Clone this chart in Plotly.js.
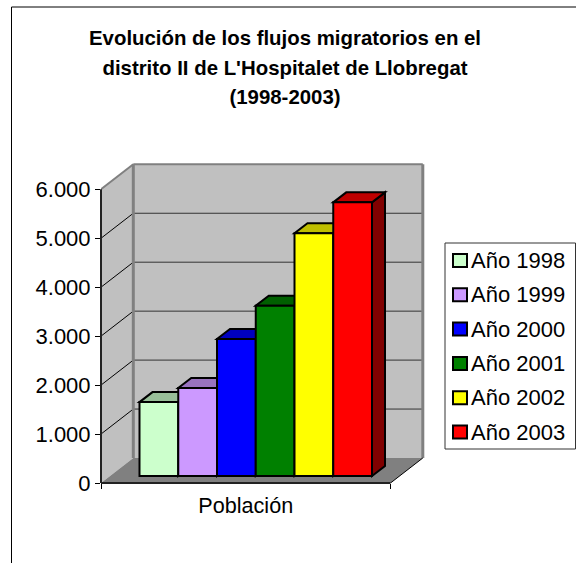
<!DOCTYPE html>
<html><head><meta charset="utf-8">
<script src="https://cdn.plot.ly/plotly-3.0.1.min.js"></script>
<style>html,body{margin:0;padding:0;background:#fff}</style></head>
<body><div id="chart" style="width:576px;height:563px"></div>
<script>
const category = 'Población';
const years = ['Año 1998','Año 1999','Año 2000','Año 2001','Año 2002','Año 2003'];
const poblacion = [1510,1800,2800,3480,4960,5590];
const frontColors = ['#CCFFCC','#CC99FF','#0000FF','#008000','#FFFF00','#FF0000'];
const topColors = ['#99BF99','#9973BF','#0000BF','#006000','#BFBF00','#BF0000'];
const sideColors = ['#668066','#664C80','#000080','#004000','#808000','#800000'];
const yTicks = [0,1000,2000,3000,4000,5000,6000];
const yTickText = ['0','1.000','2.000','3.000','4.000','5.000','6.000'];

// pixel frame of the front plane
const L=101, R=390.5, T=189.3, B=483, PW=576, PH=563, rightPx=426, topPx=160;
const ux=(R-L), uy=(B-T)/6000;
const xRange=[-0.5, -0.5+(rightPx-L)/ux];
const yRange=[0,(B-topPx)/uy];
// oblique projection helpers: convert px offsets to axis units
const dX=px=>px/ux, dY=px=>px/uy;
const wallDX=dX(32.3), wallDY=dY(25);
const barDX=dX(13), barDY=dY(10);
const barBase=dY(7);
const barX0=(139.5-L)/ux-0.5, barW=(372-139.5)/ux/6;

const traces=years.map((name,i)=>({
  type:'bar',name:name,x:[category],y:[poblacion[i]],base:barBase,
  width:barW,offset:barX0+i*barW,
  marker:{color:frontColors[i],line:{color:'#000',width:2}},
  showlegend:false,cliponaxis:false
}));

function poly(pts,fill,line,width,layer){
  return {type:'path',xref:'x',yref:'y',layer:layer||'below',
    path:'M'+pts.map(p=>p[0]+','+p[1]).join(' L')+' Z',
    fillcolor:fill,line:{color:line||fill,width:width===undefined?1:width}};
}
function seg(x0,y0,x1,y1,color,width,extra){
  return Object.assign({type:'line',xref:'x',yref:'y',layer:'below',x0,y0,x1,y1,line:{color,width}},extra||{});
}
const a=-0.5,b=0.5,top6=6000;
const shapes=[];
// side wall, back wall, floor
shapes.push(poly([[a,0],[a+wallDX,wallDY],[a+wallDX,top6+wallDY],[a,top6]],'#C0C0C0','#C0C0C0',0));
shapes.push(poly([[a+wallDX,wallDY],[b+wallDX,wallDY],[b+wallDX,top6+wallDY],[a+wallDX,top6+wallDY]],'#C0C0C0','#C0C0C0',0));
shapes.push(poly([[a,0],[b,0],[b+wallDX,wallDY],[a+wallDX,wallDY]],'#808080','#808080',0));
// gridlines on both walls
yTicks.slice(1,-1).forEach(v=>{
  shapes.push(seg(a,v,a+wallDX,v+wallDY,'#000',1));
  shapes.push(seg(a+wallDX,v+wallDY,b+wallDX,v+wallDY,'#333',1));
});
// gray wall edges
shapes.push(seg(a,top6,a+wallDX,top6+wallDY,'#808080',2));
shapes.push(seg(a+wallDX,top6+wallDY,b+wallDX,top6+wallDY,'#808080',2));
shapes.push(seg(a+wallDX,wallDY,a+wallDX,top6+wallDY,'#808080',3));
shapes.push(seg(b+wallDX,wallDY,b+wallDX,top6+wallDY,'#808080',3));
shapes.push(seg(b,0,b+wallDX,wallDY,'#000',1));
// bar side and top faces
poblacion.forEach((v,i)=>{
  const x0=barX0+i*barW,x1=x0+barW,y0=barBase,y1=barBase+v;
  shapes.push(poly([[x1,y0],[x1+barDX,y0+barDY],[x1+barDX,y1+barDY],[x1,y1]],sideColors[i],'#000',2));
  shapes.push(poly([[x0,y1],[x1,y1],[x1+barDX,y1+barDY],[x0+barDX,y1+barDY]],topColors[i],'#000',2));
});
// front axis lines (not clipped at plot edges)
shapes.push({type:'line',xref:'paper',x0:0,x1:0,yref:'y',y0:0,y1:top6,layer:'above',line:{color:'#222',width:2}});
shapes.push({type:'line',xref:'x',x0:a,x1:b,yref:'paper',y0:0,y1:0,layer:'above',line:{color:'#222',width:2}});
// chart area frame
shapes.push({type:'line',xref:'paper',yref:'paper',x0:(11.5-L)/(rightPx-L),x1:(PW-L)/(rightPx-L),y0:(B-7)/(B-topPx),y1:(B-7)/(B-topPx),layer:'above',line:{color:'#000',width:1}});
shapes.push({type:'line',xref:'paper',yref:'paper',x0:(11.5-L)/(rightPx-L),x1:(11.5-L)/(rightPx-L),y0:(B-7)/(B-topPx),y1:(B-PH)/(B-topPx),layer:'above',line:{color:'#000',width:1}});

// legend
const pxX=p=>(p-L)/(rightPx-L), pxY=p=>(B-p)/(B-topPx);
shapes.push({type:'rect',xref:'paper',yref:'paper',x0:pxX(445),x1:pxX(575.5),y0:pxY(243),y1:pxY(449),layer:'above',fillcolor:'#fff',line:{color:'#333',width:1}});
const annotations=[];
years.forEach((name,i)=>{
  const cy=260.5+i*34.3;
  shapes.push({type:'rect',xref:'paper',yref:'paper',x0:pxX(453),x1:pxX(467),y0:pxY(cy-6.5),y1:pxY(cy+6.5),layer:'above',fillcolor:frontColors[i],line:{color:'#000',width:2}});
  annotations.push({xref:'paper',yref:'paper',x:pxX(472),y:pxY(cy),xanchor:'left',yanchor:'middle',showarrow:false,text:name,xshift:-1,font:{size:22,color:'#000'},borderpad:0,borderwidth:0});
});

const titleSpan=s=>'<span style="font-size:20.4px">'+s+'</span>';
const layout={
  width:PW,height:PH,paper_bgcolor:'#fff',plot_bgcolor:'rgba(0,0,0,0)',showlegend:false,
  font:{family:'"Liberation Sans",Arial,sans-serif',color:'#000'},
  margin:{l:L,r:PW-rightPx,t:topPx,b:PH-B,pad:0},
  barmode:'overlay',
  title:{text:[ 'Evolución de los flujos migratorios en el','distrito II de L\'Hospitalet de Llobregat','(1998-2003)'].map(titleSpan).join('<br>'),
    font:{size:22.7,weight:'bold',color:'#000'},x:285/PW,xanchor:'center',y:1-45/PH,yanchor:'middle',yref:'container'},
  xaxis:{type:'category',range:xRange,tickson:'boundaries',ticks:'outside',ticklen:5,tickwidth:1,tickcolor:'#000',
    showgrid:false,zeroline:false,showline:false,tickfont:{size:21.6},ticklabelstandoff:7,fixedrange:true,automargin:false},
  yaxis:{range:yRange,tickvals:yTicks,ticktext:yTickText,ticks:'outside',ticklen:5,tickwidth:1,tickcolor:'#000',
    showgrid:false,zeroline:false,showline:false,tickfont:{size:22},fixedrange:true,automargin:false},
  shapes:shapes,annotations:annotations
};
Plotly.newPlot('chart',traces,layout,{displayModeBar:false,staticPlot:true});
</script></body></html>
